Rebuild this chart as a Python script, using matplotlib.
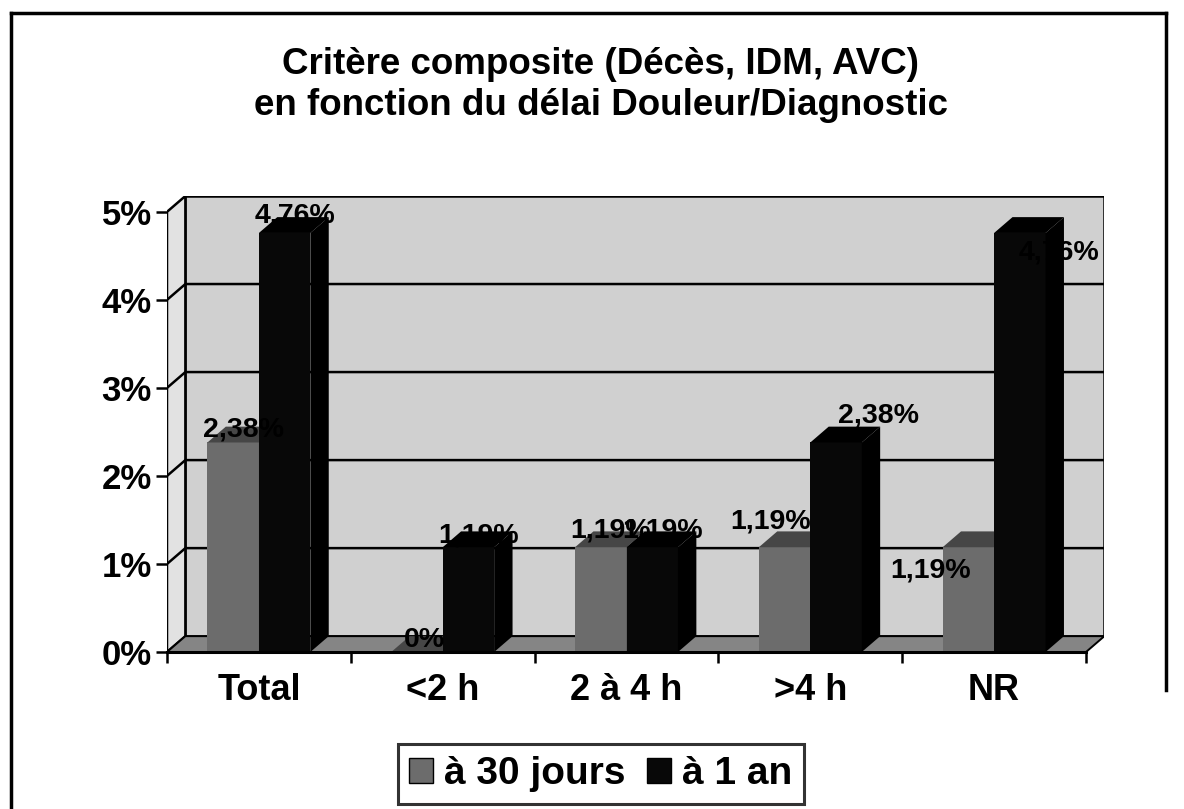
import matplotlib
matplotlib.use('Agg')
import matplotlib.pyplot as plt
from matplotlib.patches import Polygon, Patch
from matplotlib.lines import Line2D

plt.rcParams['font.family'] = ['Liberation Sans', 'DejaVu Sans']
plt.rcParams['font.weight'] = 'bold'

categories = ['Total', '<2 h', '2 à 4 h', '>4 h', 'NR']
jours_30 = [2.38, 0.0, 1.19, 1.19, 1.19]
an_1 = [4.76, 1.19, 1.19, 2.38, 4.76]
series_names = ['à 30 jours', 'à 1 an']
y_ticks = [0, 1, 2, 3, 4, 5]

# label nudges (pixels) from the front-top centre of each bar
nudge_30 = [(10, 6), (7, 5), (10, 10), (-14, 19), (-38, -30)]
nudge_1an = [(10, 10), (10, 5), (10, 10), (42, 20), (39, -27)]

W, H = 1184, 809
DX, DY = 0.1, 0.18        # depth offset of the 3D box, in data units
BAR_W = 0.28

WALL = '#d0d0d0'
SIDE_WALL = '#e2e2e2'
FLOOR = '#858585'
GREY_FACES = ('#6c6c6c', '#464646', '#555555')   # front, top, side
BLACK_FACES = ('#080808', '#000000', '#000000')


def fmt(v):
    s = f'{v:.2f}'.rstrip('0').rstrip('.')
    return s.replace('.', ',') + '%'


def draw_bar(ax, x0, v, faces):
    x1 = x0 + BAR_W
    front, top, side = faces
    ax.bar(x0, v, width=BAR_W, align='edge', color=front, zorder=5, linewidth=0)
    ax.add_patch(Polygon([(x0, v), (x1, v), (x1 + DX, v + DY), (x0 + DX, v + DY)],
                         closed=True, facecolor=top, edgecolor='none', zorder=5))
    ax.add_patch(Polygon([(x1, 0), (x1, v), (x1 + DX, v + DY), (x1 + DX, DY)],
                         closed=True, facecolor=side, edgecolor='none', zorder=5))


fig = plt.figure(figsize=(W / 100, H / 100), dpi=100)
ax = fig.add_axes([167 / W, (H - 652) / H, (1104.4 - 167) / W, 456 / H])
n = len(categories)
x_lo, x_hi = -0.5, n - 0.5
y_top = max(y_ticks)
ax.set_xlim(x_lo, x_hi + DX)
ax.set_ylim(0, y_top + DY)
for s in ax.spines.values():
    s.set_visible(False)
ax.patch.set_alpha(0)

# back wall, side wall and floor
ax.add_patch(Polygon([(x_lo + DX, DY), (x_hi + DX, DY), (x_hi + DX, y_top + DY), (x_lo + DX, y_top + DY)],
                     closed=True, facecolor=WALL, edgecolor='black', linewidth=1.8, zorder=1))
ax.add_patch(Polygon([(x_lo, 0), (x_lo + DX, DY), (x_lo + DX, y_top + DY), (x_lo, y_top)],
                     closed=True, facecolor=SIDE_WALL, edgecolor='black', linewidth=1.8, zorder=1))
ax.add_patch(Polygon([(x_lo, 0), (x_hi, 0), (x_hi + DX, DY), (x_lo + DX, DY)],
                     closed=True, facecolor=FLOOR, edgecolor='black', linewidth=1.4, zorder=2))
for t in y_ticks[1:-1]:
    ax.plot([x_lo, x_lo + DX, x_hi + DX], [t, t + DY, t + DY], color='black', lw=1.8, zorder=2)
ax.plot([x_lo, x_hi], [0, 0], color='black', lw=2.2, zorder=6, clip_on=False)

for i in range(n):
    draw_bar(ax, i - BAR_W, jours_30[i], GREY_FACES)
    draw_bar(ax, i, an_1[i], BLACK_FACES)

for i in range(n):
    for v, xc, (dx, dy) in ((jours_30[i], i - BAR_W / 2, nudge_30[i]),
                            (an_1[i], i + BAR_W / 2, nudge_1an[i])):
        ax.annotate(fmt(v), (xc, v), xytext=(dx, dy), textcoords='offset pixels',
                    ha='center', va='baseline', fontsize=20.5, fontweight='bold', zorder=8,
                    annotation_clip=False)

ax.set_yticks(y_ticks)
ax.set_yticklabels([f'{t}%' for t in y_ticks], fontsize=25, fontweight='bold')
ax.set_xticks([x_lo + k for k in range(n + 1)])
ax.set_xticklabels([])
ax.set_xticks(range(n), minor=True)
ax.set_xticklabels(categories, minor=True, fontsize=26, fontweight='bold')
ax.tick_params(axis='y', length=8, width=1.8, pad=3)
ax.tick_params(axis='x', which='major', length=8, width=1.8)
ax.tick_params(axis='x', which='minor', length=0, pad=15)

fig.text(601 / W, 1 - 85 / H, 'Critère composite (Décès, IDM, AVC)\nen fonction du délai Douleur/Diagnostic',
         ha='center', va='center', fontsize=26.5, fontweight='bold', linespacing=1.25)

handles = [Patch(facecolor=GREY_FACES[0], edgecolor='black'), Patch(facecolor=BLACK_FACES[0], edgecolor='black')]
leg = fig.legend(handles, series_names, loc='center', bbox_to_anchor=(601 / W, 1 - 774 / H), ncol=2,
                 prop={'size': 28, 'weight': 'bold'}, frameon=True, fancybox=False,
                 handlelength=0.6, handleheight=0.6, handletextpad=0.3, columnspacing=0.55,
                 borderpad=0.3, borderaxespad=0)
leg.get_frame().set_edgecolor('black')
leg.get_frame().set_linewidth(2.2)

# outer frame
def px_line(xs, ys):
    fig.add_artist(Line2D([x / W for x in xs], [1 - y / H for y in ys], color='black', lw=2.5))

px_line([11, 1166], [13, 13])
px_line([11, 11], [13, 809])
px_line([1166, 1166], [13, 690])

fig.savefig('out.png', dpi=100)
